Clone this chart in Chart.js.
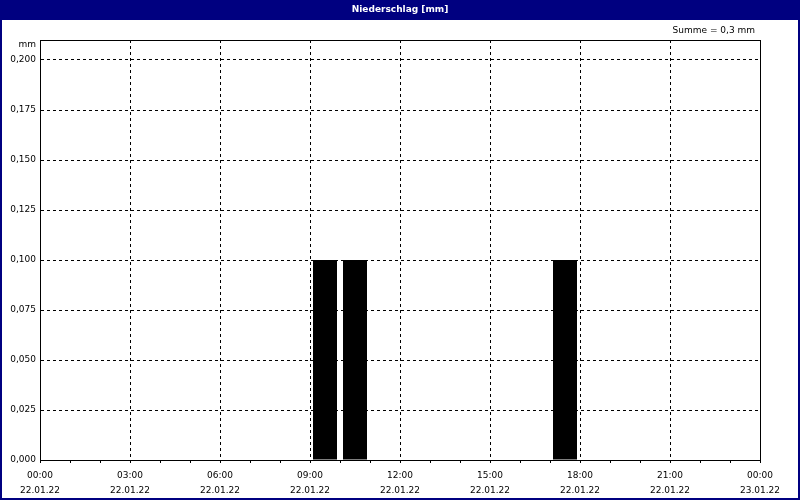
<!DOCTYPE html>
<html>
<head>
<meta charset="utf-8">
<script src="https://cdn.jsdelivr.net/npm/chart.js@4/dist/chart.umd.min.js"></script>
<style>
  html, body { margin: 0; padding: 0; background: #fff; }
  #wrap { width: 800px; height: 500px; }
</style>
</head>
<body>
<div id="wrap"><canvas id="rainChart" width="800" height="500"></canvas></div>
<script>
// Data: hourly precipitation on 22.01.22 (bar centred in its hour)
const hourMid = [0.5, 1.5, 2.5, 3.5, 4.5, 5.5, 6.5, 7.5, 8.5, 9.5, 10.5, 11.5,
                 12.5, 13.5, 14.5, 15.5, 16.5, 17.5, 18.5, 19.5, 20.5, 21.5, 22.5, 23.5];
const rainMm = [0, 0, 0, 0, 0, 0, 0, 0, 0, 0.1, 0.1, 0,
                0, 0, 0, 0, 0, 0.1, 0, 0, 0, 0, 0, 0];
const timeLabels = ['00:00', '03:00', '06:00', '09:00', '12:00', '15:00', '18:00', '21:00', '00:00'];
const dateLabels = ['22.01.22', '22.01.22', '22.01.22', '22.01.22', '22.01.22',
                    '22.01.22', '22.01.22', '22.01.22', '23.01.22'];
const titleText = 'Niederschlag [mm]';
const sumText = 'Summe = 0,3 mm';
const unitText = 'mm';

const FONT = 'DejaVu Sans, Verdana, sans-serif';
const NAVY = '#000080';

// Frame, title bar and extra labels
const decor = {
    id: 'decor',
    beforeDraw(chart) {
        const ctx = chart.ctx;
        ctx.save();
        ctx.fillStyle = '#fff';
        ctx.fillRect(0, 0, chart.width, chart.height);
        ctx.fillStyle = NAVY;
        ctx.fillRect(0, 0, chart.width, 20);
        ctx.restore();
    },
    afterDraw(chart) {
        const ctx = chart.ctx;
        const a = chart.chartArea;
        ctx.save();
        // plot frame
        ctx.strokeStyle = '#000';
        ctx.lineWidth = 1;
        ctx.strokeRect(Math.round(a.left) + 0.5, Math.round(a.top) + 0.5,
                       Math.round(a.right - a.left), Math.round(a.bottom - a.top));
        // outer frame
        ctx.strokeStyle = NAVY;
        ctx.lineWidth = 2;
        ctx.strokeRect(1, 1, chart.width - 2, chart.height - 2);
        // title
        ctx.fillStyle = '#fff';
        ctx.font = 'bold 9px ' + FONT;
        ctx.textAlign = 'center';
        ctx.textBaseline = 'middle';
        ctx.fillText(titleText, chart.width / 2, 10);
        // sum + unit
        ctx.fillStyle = '#000';
        ctx.font = '9px ' + FONT;
        ctx.textAlign = 'right';
        ctx.fillText(sumText, a.right - 5, 31);
        ctx.fillText(unitText, a.left - 4, 45);
        ctx.restore();
    }
};

const ctx = document.getElementById('rainChart').getContext('2d');
new Chart(ctx, {
    type: 'bar',
    data: {
        datasets: [{
            data: hourMid.map((h, i) => ({ x: h, y: rainMm[i] })),
            backgroundColor: '#000',
            borderWidth: 0,
            categoryPercentage: 0.8,
            barPercentage: 1.0
        }]
    },
    options: {
        responsive: false,
        animation: false,
        layout: { padding: { top: 40, right: 40, left: 0, bottom: 0 } },
        plugins: {
            legend: { display: false },
            tooltip: { enabled: false },
            title: { display: false }
        },
        scales: {
            x: {
                type: 'linear',
                min: 0,
                max: 24,
                offset: false,
                afterFit: s => { s.height = 40; },
                ticks: {
                    stepSize: 1,
                    autoSkip: false,
                    maxRotation: 0,
                    padding: 5,
                    color: '#000',
                    font: { family: FONT, size: 9, lineHeight: 1.7 },
                    callback: v => v % 3 === 0 ? [timeLabels[v / 3], dateLabels[v / 3]] : ''
                },
                grid: {
                    offset: false,
                    color: c => (c.tick && c.tick.value % 3 === 0) ? '#000' : 'transparent',
                    tickColor: '#000',
                    tickLength: 3,
                    lineWidth: 1
                },
                border: { display: true, color: '#000', dash: [3, 3] }
            },
            y: {
                min: 0,
                max: 0.21,
                afterFit: s => { s.width = 40; },
                afterBuildTicks: s => { s.ticks = s.ticks.filter(t => t.value <= 0.2 + 1e-9); },
                ticks: {
                    stepSize: 0.025,
                    padding: 4,
                    color: '#000',
                    font: { family: FONT, size: 9 },
                    callback: v => v.toFixed(3).replace('.', ',')
                },
                grid: {
                    color: '#000',
                    drawTicks: false,
                    lineWidth: 1
                },
                border: { display: true, color: '#000', dash: [3, 3] }
            }
        }
    },
    plugins: [decor]
});
</script>
</body>
</html>
